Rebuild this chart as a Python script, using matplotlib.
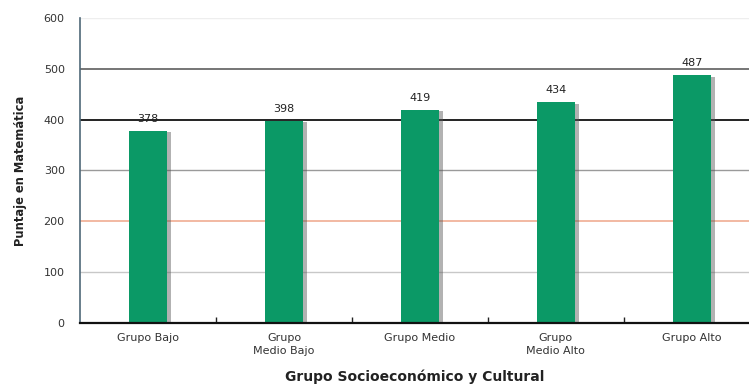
import matplotlib
matplotlib.use("Agg")
import matplotlib.pyplot as plt
import matplotlib.patheffects as pe

categories = ["Grupo Bajo", "Grupo\nMedio Bajo", "Grupo Medio", "Grupo\nMedio Alto", "Grupo Alto"]
values = [378, 398, 419, 434, 487]
yticks = [0, 100, 200, 300, 400, 500, 600]

plt.rcParams['font.family'] = ['DejaVu Sans']

fig = plt.figure(figsize=(7.49, 3.89), dpi=100)
ax = fig.add_axes([80/749, 1-323/389, 1-80/749, (323-18)/389])

grid_colors = {100: "#c8c8c8", 200: "#f2b9a2", 300: "#9a9a9a", 400: "#111111", 500: "#505050", 600: "#eeeeee"}
grid_widths = {100: 1.0, 200: 1.4, 300: 1.0, 400: 1.3, 500: 1.1, 600: 1.0}
for yv in yticks[1:]:
    ax.axhline(yv, color=grid_colors[yv], lw=grid_widths[yv], zorder=1)

x = list(range(len(categories)))
bars = ax.bar(x, values, width=0.28, color="#0b9966", zorder=3)
for b in bars:
    b.set_path_effects([pe.SimplePatchShadow(offset=(3, -1), shadow_rgbFace="#555555", alpha=0.45), pe.Normal()])

for xi, v in zip(x, values):
    ax.text(xi, v + 14, str(v), ha="center", va="bottom", fontsize=8, color="#222222", zorder=4)

ax.set_xlim(-0.5, 4.42)
ax.set_ylim(0, 600)
ax.set_yticks(yticks)
ax.set_yticklabels([str(t) for t in yticks], fontsize=8, color="#333333")
ax.tick_params(axis="y", length=0, pad=11)
ax.set_xticks(x)
ax.set_xticklabels(categories, fontsize=8, color="#333333", linespacing=1.4)
ax.tick_params(axis="x", which="major", length=0, pad=7)
ax.set_xticks([0.5, 1.5, 2.5, 3.5], minor=True)
ax.tick_params(axis="x", which="minor", direction="in", length=4, width=1, color="#222222")

for s in ["top", "right"]:
    ax.spines[s].set_visible(False)
ax.spines["left"].set_color("#4f6878")
ax.spines["left"].set_linewidth(1.2)
ax.spines["bottom"].set_color("#111111")
ax.spines["bottom"].set_linewidth(1.6)
ax.spines["bottom"].set_zorder(5)

ax.set_ylabel("Puntaje en Matemática", fontsize=8.3, fontweight="bold", color="#222222", labelpad=12)
ax.set_xlabel("Grupo Socioeconómico y Cultural", fontsize=10, fontweight="bold", color="#222222", labelpad=10)

fig.savefig("out.png", dpi=100)
